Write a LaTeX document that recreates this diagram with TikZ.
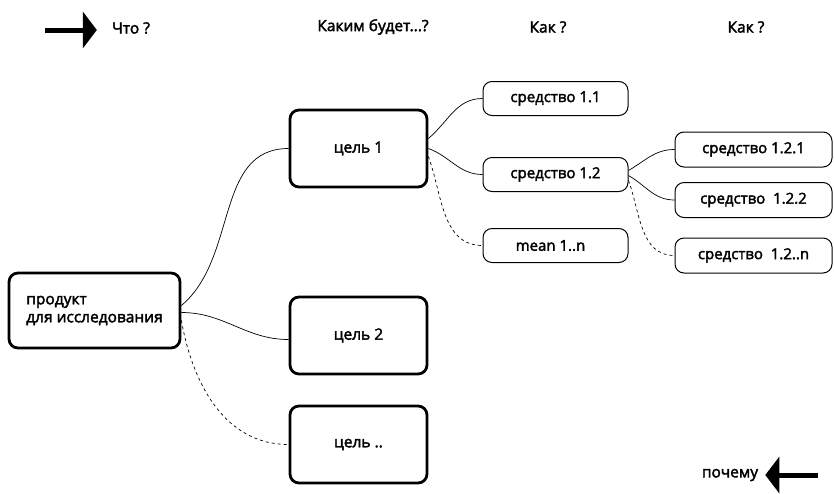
\documentclass[tikz,border=0pt]{standalone}
\usepackage{fontspec}
\setmainfont{Open Sans}[FakeBold=2.4]
\usetikzlibrary{arrows.meta,positioning}

\begin{document}
\begin{tikzpicture}[
    x=1pt, y=-1pt,
    goal/.style={rectangle, draw, rounded corners=9pt, line width=2.8pt, minimum width=137pt, minimum height=77pt, align=center, font=\fontsize{15.5}{18}\selectfont},
    meanbox/.style={rectangle, draw, rounded corners=9pt, line width=1pt, minimum width=145pt, minimum height=34pt, align=center, font=\fontsize{15}{18}\selectfont},
    subbox/.style={meanbox, minimum width=157pt, minimum height=35pt},
    head/.style={font=\fontsize{15.5}{18}\selectfont, inner sep=0pt},
    link/.style={line width=0.7pt},
    maybe/.style={link, dashed},
    bigarrow/.style={line width=5pt, -{Triangle[length=14pt,width=36pt]}}
]
    \useasboundingbox (0,0) rectangle (834,493);

    \node[head] (what) at (131,28) {Что ?};
    \node[head] (howbe) at (373,27) {Каким будет...?};
    \node[head] (how1) at (548,27) {Как ?};
    \node[head] (how2) at (746,27) {Как ?};
    \node[head] (why) at (730,475) {почему};
    \coordinate (whatstart) at (45,30);
    \coordinate (whytail) at (818,475);
    \draw[bigarrow] (whatstart) -- ([xshift=-15pt]what.west |- whatstart);
    \draw[bigarrow] (whytail) -- ([xshift=7pt]why.east);

    \node[goal, align=left, minimum width=171pt, minimum height=75pt] (prod) at (94.5,310.5) {продукт\\для исследования};
    \node[goal] (goal1) at (358.5,148.5) {цель 1};
    \node[goal] (goal2) at (358.5,335.5) {цель 2};
    \node[goal] (goaln) at (358.5,444.5) {цель ..};

    \node[meanbox] (mean11) at (555.5,98.5) {средство 1.1};
    \node[meanbox] (mean12) at (555.5,174.5) {средство 1.2};
    \node[meanbox] (mean1n) at (555.5,245.5) {mean 1..n\hspace{10pt}};
    \node[subbox] (mean121) at (753.5,149.5) {средство 1.2.1};
    \node[subbox] (mean122) at (753.5,200) {средство\ \ 1.2.2};
    \node[subbox] (mean12n) at (753.5,255.5) {средство\ \ 1.2..n};

    \draw[link] ([yshift=5pt]prod.east) to[out=40, in=180] (goal1.west);
    \draw[link] ([yshift=-2pt]prod.east) to[out=0, in=180] ([yshift=-4pt]goal2.west);
    \draw[maybe] ([yshift=-10pt]prod.east) to[out=-80, in=180] (goaln.west);

    \draw[link] ([yshift=10pt]goal1.east) to[out=40, in=180] (mean11.west);
    \draw[link] ([yshift=0pt]goal1.east) to[out=-20, in=180] (mean12.west);
    \draw[maybe] ([yshift=-8pt]goal1.east) to[out=-70, in=180] (mean1n.west);

    \draw[link] ([yshift=4pt]mean12.east) to[out=30, in=180] (mean121.west);
    \draw[link] ([yshift=-1pt]mean12.east) to[out=-30, in=180] (mean122.west);
    \draw[maybe] ([yshift=-6pt]mean12.east) to[out=-70, in=180] (mean12n.west);
\end{tikzpicture}
\end{document}
